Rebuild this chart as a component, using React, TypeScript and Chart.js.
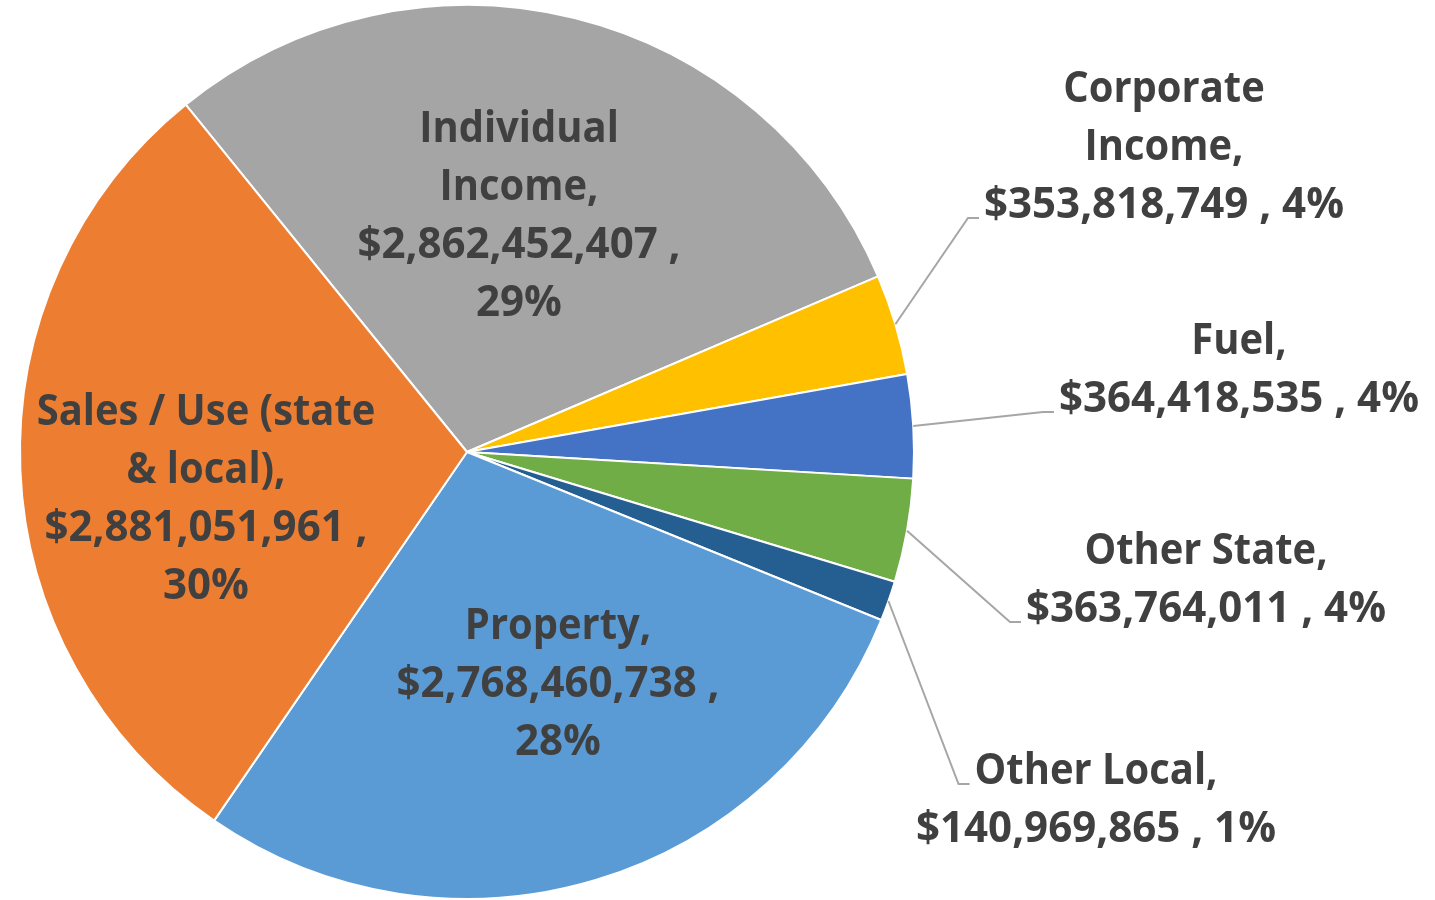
import React, { useEffect, useRef } from "react";
import { Chart, registerables } from "chart.js";

Chart.register(...registerables);

const categories = [
  "Individual Income",
  "Corporate Income",
  "Fuel",
  "Other State",
  "Other Local",
  "Property",
  "Sales / Use (state & local)",
];
const revenues = [2862452407, 353818749, 364418535, 363764011, 140969865, 2768460738, 2881051961];
const sliceColors = ["#A5A5A5", "#FFC000", "#4472C4", "#70AD47", "#255E91", "#5B9BD5", "#ED7D31"];

// label layout: offsets from pie centre, wrap info
const labelLayout = [
  { inside: true, dx: 52, dy: -235.5, firstWords: 1, anchorLine: 0 },
  { inside: false, dx: 697, dy: -304, firstWords: 1, anchorLine: 2 },
  { inside: false, dx: 772, dy: -81, firstWords: 0, anchorLine: 1 },
  { inside: false, dx: 739, dy: 129, firstWords: 0, anchorLine: 1 },
  { inside: false, dx: 629, dy: 349, firstWords: 0, anchorLine: 0 },
  { inside: true, dx: 91, dy: 232.5, firstWords: 0, anchorLine: 0 },
  { inside: true, dx: -261, dy: 47.5, firstWords: 4, anchorLine: 0 },
];

const FONT = 'bold 43px "Open Sans", "Noto Sans", sans-serif';
const LINE_H = 58;
const TEXT_COLOR = "#404040";
const LEADER_COLOR = "#A6A6A6";
const NAME_SQUEEZE = 0.95;

function buildLines(i: number, total: number): string[] {
  const name = categories[i];
  const val = "$" + revenues[i].toLocaleString("en-US");
  const pct = Math.round((revenues[i] / total) * 100) + "%";
  const lay = labelLayout[i];
  const words = name.split(" ");
  const lines: string[] = [];
  if (lay.firstWords > 0 && lay.firstWords < words.length) {
    lines.push(words.slice(0, lay.firstWords).join(" "));
    lines.push(words.slice(lay.firstWords).join(" ") + ",");
  } else {
    lines.push(name + ",");
  }
  if (lay.inside) {
    lines.push(val + " ,");
    lines.push(pct);
  } else {
    lines.push(val + " , " + pct);
  }
  return lines;
}

const labelPlugin = {
  id: "pieLabels",
  afterDatasetsDraw(chart: any) {
    const ctx = chart.ctx as CanvasRenderingContext2D;
    const meta = chart.getDatasetMeta(0);
    const total = revenues.reduce((a, b) => a + b, 0);
    ctx.save();
    ctx.font = FONT;
    const sx = 360 / ctx.measureText("$353,818,749 , 4%").width;
    meta.data.forEach((arc: any, i: number) => {
      const lay = labelLayout[i];
      const cxp = arc.x;
      const cyp = arc.y;
      const lines = buildLines(i, total);
      const bx = cxp + lay.dx;
      const by = cyp + lay.dy;
      const n = lines.length;
      const scaleOf = (ln: string) => (/\d/.test(ln) ? sx : sx * NAME_SQUEEZE);
      ctx.fillStyle = TEXT_COLOR;
      ctx.textAlign = "center";
      ctx.textBaseline = "middle";
      lines.forEach((ln, k) => {
        const ly = by + (k - (n - 1) / 2) * LINE_H;
        ctx.save();
        ctx.translate(bx, ly);
        ctx.scale(scaleOf(ln), 1);
        ctx.fillText(ln, 0, 0);
        ctx.restore();
      });
      if (!lay.inside) {
        const a = (arc.startAngle + arc.endAngle) / 2;
        const r = arc.outerRadius;
        const sxp = cxp + Math.cos(a) * r;
        const syp = cyp + Math.sin(a) * r;
        const k = lay.anchorLine;
        const w = ctx.measureText(lines[k]).width * scaleOf(lines[k]);
        const ex = bx - w / 2 - 5;
        const ey = by + (k - (n - 1) / 2) * LINE_H + 12;
        ctx.strokeStyle = LEADER_COLOR;
        ctx.lineWidth = 2;
        ctx.beginPath();
        ctx.moveTo(sxp, syp);
        ctx.lineTo(ex - 11, ey);
        ctx.lineTo(ex, ey);
        ctx.stroke();
      }
    });
    ctx.restore();
  },
};

export default function App() {
  const ref = useRef<HTMLCanvasElement>(null);
  useEffect(() => {
    document.body.style.margin = "0";
    let chart: Chart | null = null;
    let cancelled = false;
    const make = () => {
      if (cancelled || !ref.current) return;
      chart = new Chart(ref.current, {
        type: "pie",
        data: {
          labels: categories,
          datasets: [
            {
              data: revenues,
              backgroundColor: sliceColors,
              borderColor: "#FFFFFF",
              borderWidth: 2,
              hoverOffset: 0,
              offset: 0,
            },
          ],
        },
        options: {
          animation: false,
          responsive: false,
          rotation: -39,
          radius: 447,
          layout: { padding: { left: 0, right: 501, top: 4, bottom: 0 } },
          plugins: { legend: { display: false }, tooltip: { enabled: false } },
          events: [],
        },
        plugins: [labelPlugin],
      } as any);
    };
    const fonts: any = (document as any).fonts;
    if (fonts && fonts.load) {
      fonts.load(FONT).then(make, make);
    } else {
      make();
    }
    return () => {
      cancelled = true;
      if (chart) chart.destroy();
    };
  }, []);
  return (
    <div style={{ width: 1435, height: 900, background: "#fff" }}>
      <canvas ref={ref} width={1435} height={900} style={{ display: "block" }} />
    </div>
  );
}
